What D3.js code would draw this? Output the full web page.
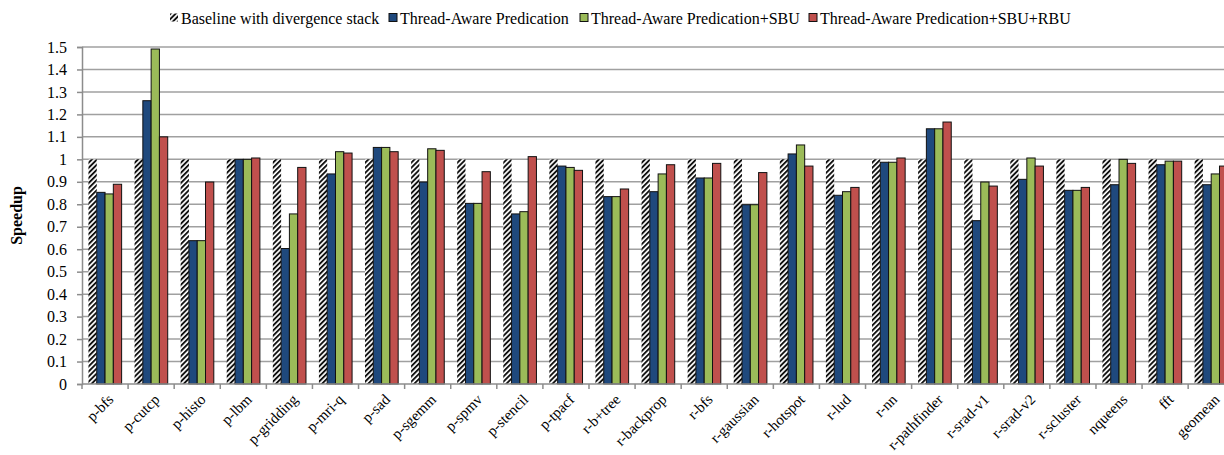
<!DOCTYPE html>
<html>
<head>
<meta charset="utf-8">
<script src="https://cdn.jsdelivr.net/npm/d3@7"></script>
<style>
  html, body { margin: 0; padding: 0; background: #fff; }
  svg { display: block; }
</style>
</head>
<body>
<svg id="chart" width="1224" height="455"></svg>
<script>
// Benchmarks on the x axis
const categories = ["p-bfs","p-cutcp","p-histo","p-lbm","p-gridding","p-mri-q","p-sad","p-sgemm",
  "p-spmv","p-stencil","p-tpacf","r-b+tree","r-backprop","r-bfs","r-gaussian","r-hotspot",
  "r-lud","r-nn","r-pathfinder","r-srad-v1","r-srad-v2","r-scluster","nqueens","fft","geomean"];

const seriesNames = ["Baseline with divergence stack", "Thread-Aware Predication",
  "Thread-Aware Predication+SBU", "Thread-Aware Predication+SBU+RBU"];

// Speedup over the baseline, one value per benchmark
const baseline = [1,1,1,1,1,1,1,1,1,1,1,1,1,1,1,1,1,1,1,1,1,1,1,1,1];
const tap = [0.853,1.261,0.638,1.0,0.603,0.935,1.053,0.899,0.804,0.757,0.970,0.834,0.856,
  0.917,0.798,1.024,0.840,0.987,1.136,0.727,0.911,0.862,0.887,0.976,0.887];
const tapSbu = [0.846,1.491,0.638,1.0,0.757,1.034,1.053,1.047,0.804,0.767,0.964,0.834,0.935,
  0.917,0.798,1.064,0.856,0.987,1.136,0.899,1.006,0.862,1.0,0.992,0.935];
const tapSbuRbu = [0.889,1.10,0.899,1.006,0.964,1.028,1.034,1.040,0.945,1.012,0.951,0.868,0.976,
  0.982,0.941,0.970,0.875,1.006,1.166,0.881,0.970,0.875,0.982,0.992,0.970];

const yTicks = [0,0.1,0.2,0.3,0.4,0.5,0.6,0.7,0.8,0.9,1,1.1,1.2,1.3,1.4,1.5];

const seriesValues = [baseline, tap, tapSbu, tapSbuRbu];
const fills = ["url(#hatch)", "#1F497D", "#9BBB59", "#C0504D"];
const FONT = "'Liberation Serif', 'DejaVu Serif', serif";
const FS = 16;

const svg = d3.select("#chart").attr("font-family", FONT);

// diagonal hatch for the baseline bars
const defs = svg.append("defs");
const pat = defs.append("pattern")
  .attr("id", "hatch").attr("patternUnits", "userSpaceOnUse")
  .attr("width", 3.6).attr("height", 3.6)
  .attr("patternTransform", "rotate(45)");
pat.append("rect").attr("width", 3.6).attr("height", 3.6).attr("fill", "#fff");
pat.append("rect").attr("x", 0).attr("y", 0).attr("width", 1.9).attr("height", 3.6).attr("fill", "#111");

const plotLeft = 82, plotTop = 47, plotBottom = 384;
const band = 46.09;
const plotRight = plotLeft + band * categories.length;

const x = d3.scaleBand().domain(categories).range([plotLeft, plotRight]).paddingInner(0).paddingOuter(0);
const xs = d3.scaleBand().domain(d3.range(4)).range([0, x.bandwidth()]).paddingInner(0).paddingOuter(0.78);
const y = d3.scaleLinear().domain([0, 1.5]).range([plotBottom, plotTop]);

// horizontal gridlines
svg.append("g").selectAll("line").data(yTicks.filter(d => d > 0)).join("line")
  .attr("x1", plotLeft).attr("x2", 1224)
  .attr("y1", d => y(d)).attr("y2", d => y(d))
  .attr("stroke", "#A0A0A0").attr("stroke-width", 1.5);

// y axis
const yAxis = svg.append("g").attr("transform", `translate(${plotLeft},0)`)
  .call(d3.axisLeft(y).tickValues(yTicks).tickSize(5).tickPadding(10).tickFormat(d => String(+d.toFixed(1))));
yAxis.attr("font-family", FONT).attr("font-size", FS);
yAxis.select(".domain").attr("stroke", "#8C8C8C").attr("stroke-width", 1.5);
yAxis.selectAll(".tick line").attr("stroke", "#8C8C8C").attr("stroke-width", 1.5);
yAxis.selectAll(".tick text").attr("fill", "#000");

// bars
const groups = svg.append("g").selectAll("g").data(categories).join("g")
  .attr("transform", d => `translate(${x(d)},0)`);
groups.selectAll("rect").data((d, i) => seriesValues.map((s, k) => ({k, v: s[i]}))).join("rect")
  .attr("x", d => xs(d.k))
  .attr("width", xs.bandwidth())
  .attr("y", d => y(d.v))
  .attr("height", d => plotBottom - y(d.v))
  .attr("fill", d => fills[d.k])
  .attr("stroke", d => d.k === 0 ? "none" : "#111")
  .attr("stroke-width", 1);

// x axis
const xAxisG = svg.append("g").attr("transform", `translate(0,${plotBottom})`);
xAxisG.append("line").attr("x1", plotLeft).attr("x2", 1224).attr("y1", 0).attr("y2", 0)
  .attr("stroke", "#8C8C8C").attr("stroke-width", 1.5);
xAxisG.selectAll("line.tk").data(d3.range(categories.length + 1)).join("line")
  .attr("class", "tk")
  .attr("x1", i => plotLeft + i * band).attr("x2", i => plotLeft + i * band)
  .attr("y1", 0).attr("y2", 5)
  .attr("stroke", "#8C8C8C").attr("stroke-width", 1.5);
xAxisG.selectAll("text").data(categories).join("text")
  .attr("transform", d => `translate(${x(d) + x.bandwidth() / 2 + 2},${9}) rotate(-45)`)
  .attr("text-anchor", "end")
  .attr("dy", "0.7em")
  .attr("font-size", 15)
  .attr("font-family", FONT)
  .text(d => d);

// y axis title
svg.append("text")
  .attr("transform", `translate(22,${(plotTop + plotBottom) / 2}) rotate(-90)`)
  .attr("text-anchor", "middle")
  .attr("font-size", FS).attr("font-weight", "bold")
  .attr("font-family", FONT)
  .text("Speedup");

// legend
const legendX = [170, 389, 580, 809];
const lg = svg.append("g").selectAll("g").data(seriesNames).join("g")
  .attr("transform", (d, i) => `translate(${legendX[i]},18)`);
lg.append("rect").attr("x", 0).attr("y", -4.5).attr("width", 8).attr("height", 8)
  .attr("fill", (d, i) => fills[i])
  .attr("stroke", (d, i) => i === 0 ? "none" : "#111").attr("stroke-width", 1);
lg.append("text").attr("x", 11).attr("y", 0).attr("dy", "0.35em")
  .attr("font-size", FS).attr("font-family", FONT).text(d => d);
</script>
</body>
</html>
